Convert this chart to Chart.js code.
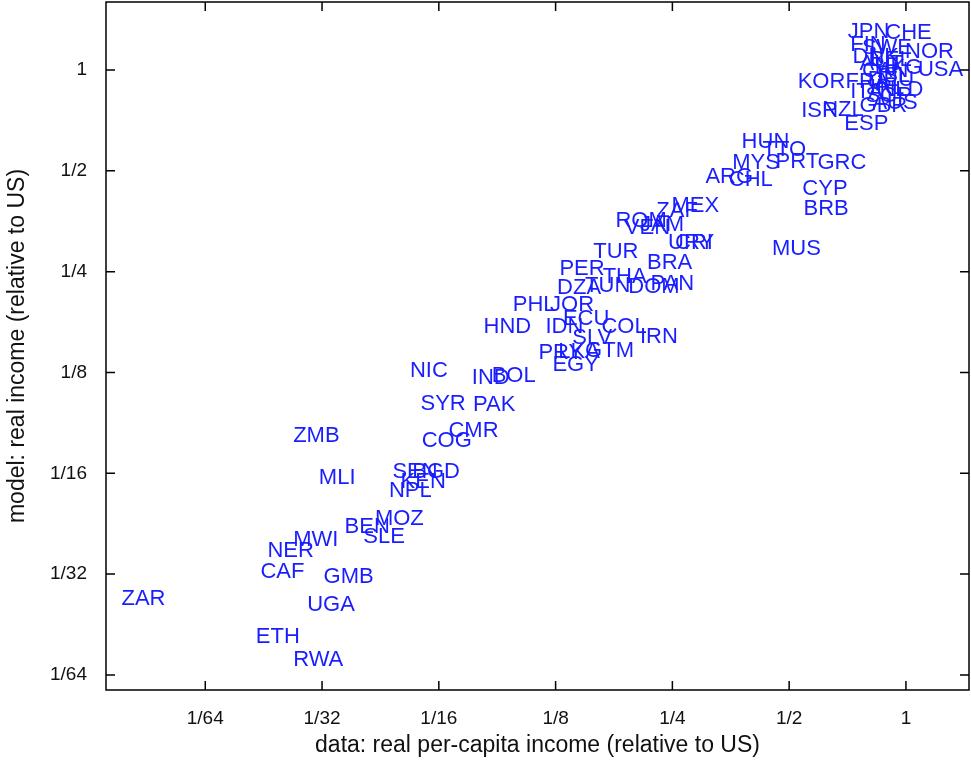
<!DOCTYPE html>
<html>
<head>
<meta charset="utf-8">
<script src="https://cdn.jsdelivr.net/npm/chart.js@4.4.0/dist/chart.umd.min.js"></script>
<style>
  html, body { margin: 0; padding: 0; background: #fff; }
  canvas { display: block; }
</style>
</head>
<body>
<canvas id="incomeChart" width="971" height="767"></canvas>
<script>
// country codes as printed on the plot
const countries = [
  "ZAR", "ETH", "RWA", "UGA", "GMB", "CAF", "NER", "MWI", "BEN", "SLE",
  "MOZ", "MLI", "ZMB", "SEN", "BGD", "KEN", "NPL", "NIC", "SYR", "PAK",
  "COG", "CMR", "IND", "BOL", "HND", "IDN", "PHL", "JOR", "ECU", "SLV",
  "COL", "IRN", "PRY", "LKA", "GTM", "EGY", "PER", "THA", "DZA", "TUN",
  "DOM", "PAN", "BRA", "TUR", "URY", "CRI", "ROM", "VEN", "JAM", "ZAF",
  "MEX", "MUS", "ARG", "CHL", "MYS", "HUN", "TTO", "PRT", "GRC", "CYP",
  "BRB", "KOR", "ISR", "NZL", "ESP", "GBR", "AUS", "JPN", "CHE", "NOR",
  "USA", "FIN", "SWE", "DNK", "BEL", "AUT", "CAN", "HKG", "ISL", "FRA",
  "DEU", "ITA", "IRL", "NLD", "SGP"
];

// data: real per-capita income relative to US, in log2 (0 = US, -1 = 1/2 ...)
const dataLog2 = [
  -6.82, -5.67, -5.35, -5.23, -5.09, -5.63, -5.57, -5.35, -4.91, -4.75,
  -4.65, -5.13, -5.35, -4.50, -4.33, -4.43, -4.53, -4.35, -4.26, -3.81,
  -4.25, -4.02, -3.82, -3.65, -3.72, -3.19, -3.47, -3.15, -3.04, -2.96,
  -2.71, -2.38, -3.25, -3.08, -2.85, -3.13, -3.07, -2.70, -3.09, -2.85,
  -2.48, -2.29, -2.32, -2.78, -2.14, -2.08, -2.59, -2.51, -2.38, -2.24,
  -2.11, -1.25, -1.82, -1.62, -1.59, -1.51, -1.33, -1.22, -0.86, -0.99,
  -0.98, -1.03, -1.00, -0.82, -0.63, -0.50, -0.39, -0.60, -0.28, -0.11,
   0.00, -0.58, -0.48, -0.56, -0.41, -0.50, -0.48, -0.37, -0.35, -0.62,
  -0.43, -0.58, -0.41, -0.33, -0.45
];

// model: real income relative to US, in log2
const modelLog2 = [
  -5.25, -5.62, -5.85, -5.31, -5.03, -4.98, -4.77, -4.66, -4.53, -4.63,
  -4.45, -4.05, -3.63, -3.99, -3.99, -4.09, -4.18, -2.98, -3.31, -3.32,
  -3.68, -3.58, -3.05, -3.03, -2.55, -2.55, -2.33, -2.33, -2.47, -2.66,
  -2.55, -2.65, -2.81, -2.80, -2.79, -2.93, -1.97, -2.05, -2.16, -2.14,
  -2.15, -2.12, -1.91, -1.80, -1.72, -1.72, -1.50, -1.57, -1.54, -1.40,
  -1.35, -1.77, -1.06, -1.09, -0.92, -0.71, -0.79, -0.91, -0.92, -1.18,
  -1.38, -0.12, -0.41, -0.40, -0.53, -0.36, -0.33, 0.38, 0.37, 0.18,
   0.00, 0.25, 0.22, 0.13, 0.10, 0.06, -0.01, 0.02, -0.06, -0.12,
  -0.10, -0.22, -0.18, -0.20, -0.26
];

// tick positions (powers of two below the US level)
const tickPowers = [-6, -5, -4, -3, -2, -1, 0];

const tickLabel = v => v === 0 ? "1" : "1/" + Math.pow(2, -v);

const points = countries.map((c, i) => ({ x: dataLog2[i], y: modelLog2[i] }));

// country code text next to each point
const countryLabels = {
  id: "countryLabels",
  afterDatasetsDraw(chart) {
    const ctx = chart.ctx;
    const meta = chart.getDatasetMeta(0);
    ctx.save();
    ctx.font = "22px 'Liberation Sans', Arial, sans-serif";
    ctx.fillStyle = "rgb(25, 30, 255)";
    ctx.textAlign = "left";
    ctx.textBaseline = "middle";
    meta.data.forEach((el, i) => {
      ctx.fillText(countries[i], el.x + 12, el.y);
    });
    ctx.restore();
  }
};

// box around the plot with inward tick marks on all sides
const boxFrame = {
  id: "boxFrame",
  afterDraw(chart) {
    const { ctx, chartArea: a, scales } = chart;
    ctx.save();
    ctx.strokeStyle = "#000";
    ctx.lineWidth = 1.5;
    ctx.strokeRect(a.left, a.top, a.right - a.left, a.bottom - a.top);
    ctx.beginPath();
    tickPowers.forEach(v => {
      const x = scales.x.getPixelForValue(v);
      ctx.moveTo(x, a.bottom); ctx.lineTo(x, a.bottom - 9);
      ctx.moveTo(x, a.top); ctx.lineTo(x, a.top + 9);
      const y = scales.y.getPixelForValue(v);
      ctx.moveTo(a.left, y); ctx.lineTo(a.left + 9, y);
      ctx.moveTo(a.right, y); ctx.lineTo(a.right - 9, y);
    });
    ctx.stroke();
    ctx.restore();
  }
};

const axisFont = { family: "'Liberation Sans', Arial, sans-serif", size: 19 };
const titleFont = { family: "'Liberation Sans', Arial, sans-serif", size: 23 };

new Chart(document.getElementById("incomeChart"), {
  type: "scatter",
  data: {
    datasets: [{
      label: "countries",
      data: points,
      pointRadius: 0,
      pointHoverRadius: 0,
      showLine: false
    }]
  },
  options: {
    responsive: false,
    animation: false,
    devicePixelRatio: 1,
    layout: { padding: { top: 2, right: 2, left: 0, bottom: 0 } },
    plugins: {
      legend: { display: false },
      tooltip: { enabled: false }
    },
    scales: {
      x: {
        type: "linear",
        min: -6.85,
        max: 0.54,
        grid: { display: false },
        border: { display: false },
        afterBuildTicks: s => { s.ticks = tickPowers.map(v => ({ value: v })); },
        afterFit: s => { s.height = 77; s.paddingLeft = 0; s.paddingRight = 0; },
        ticks: {
          color: "#111",
          font: axisFont,
          padding: 9,
          maxRotation: 0,
          callback: tickLabel
        },
        title: {
          display: true,
          text: "data: real per-capita income (relative to US)",
          color: "#111",
          font: titleFont,
          padding: { top: 0, bottom: 8 }
        }
      },
      y: {
        type: "linear",
        min: -6.15,
        max: 0.675,
        grid: { display: false },
        border: { display: false },
        afterBuildTicks: s => { s.ticks = tickPowers.map(v => ({ value: v })); },
        afterFit: s => { s.width = 106; s.paddingTop = 0; s.paddingBottom = 0; },
        ticks: {
          color: "#111",
          font: axisFont,
          padding: 11,
          callback: tickLabel
        },
        title: {
          display: true,
          text: "model: real income (relative to US)",
          color: "#111",
          font: titleFont,
          padding: { top: 4, bottom: 0 }
        }
      }
    }
  },
  plugins: [countryLabels, boxFrame]
});
</script>
</body>
</html>
